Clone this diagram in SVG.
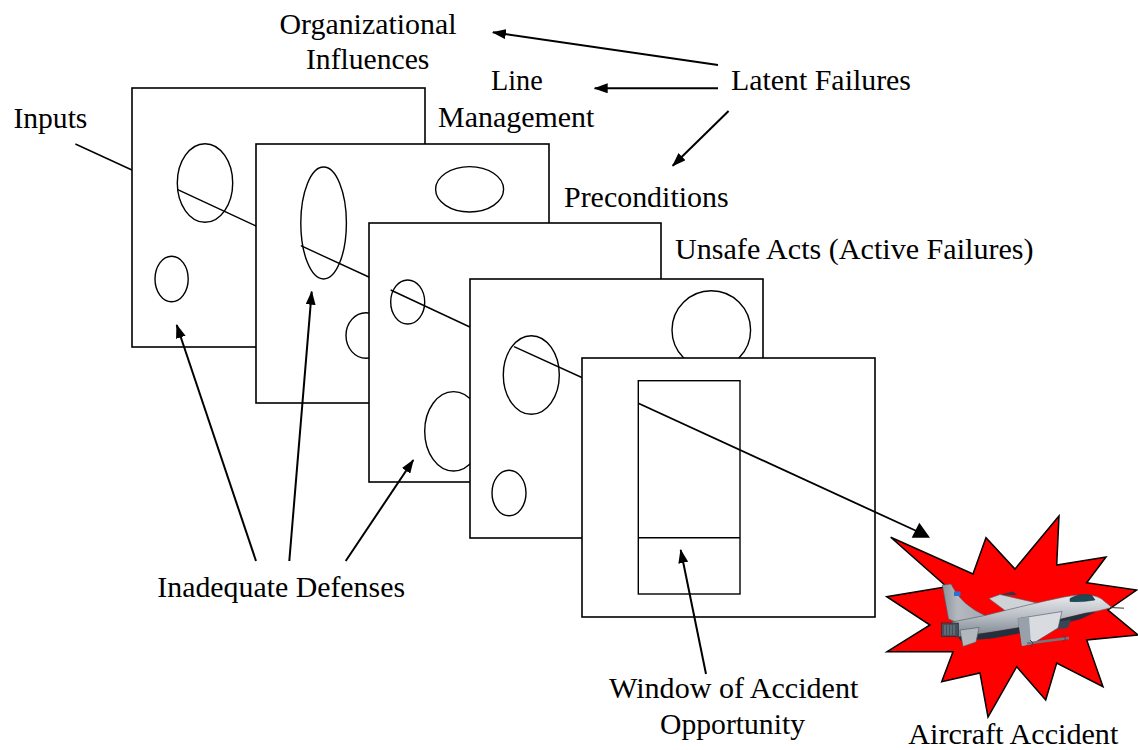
<svg xmlns="http://www.w3.org/2000/svg" width="1138" height="750" viewBox="0 0 1138 750">
<style>
.slice{fill:#fff;stroke:#000;stroke-width:1.6}
.hole{fill:none;stroke:#000;stroke-width:1.4}
.thru{stroke:#000;stroke-width:1.4;fill:none}
.arr{stroke:#000;stroke-width:2;fill:none;marker-end:url(#ah)}
text{font-family:'Liberation Serif','Times New Roman',serif;font-size:29.33px;fill:#000}
</style>
<defs>
<marker id="ah" markerUnits="userSpaceOnUse" markerWidth="14" markerHeight="10" refX="13" refY="5" orient="auto">
<path d="M0,0 L14,5 L0,10 Z" fill="#000"/>
</marker>
<linearGradient id="metal" x1="0" y1="0" x2="0" y2="1">
<stop offset="0" stop-color="#e9ecef"/>
<stop offset="0.5" stop-color="#b9bec5"/>
<stop offset="1" stop-color="#7c848e"/>
</linearGradient>
<linearGradient id="fin" x1="0" y1="0" x2="1" y2="0">
<stop offset="0" stop-color="#8a9099"/>
<stop offset="0.35" stop-color="#b4b9c0"/>
<stop offset="1" stop-color="#a3a9b1"/>
</linearGradient>
</defs>

<g id="inputs-line">
<line class="thru" x1="75.4" y1="144" x2="133" y2="170.5"/>
</g>

<g id="slice-organizational">
<rect class="slice" x="132" y="88" width="293" height="259"/>
<ellipse class="hole" cx="205" cy="183" rx="27.7" ry="39.3"/>
<ellipse class="hole" cx="171.6" cy="279" rx="16.6" ry="22.7"/>
<line class="thru" x1="177.2" y1="189.3" x2="258" y2="227"/>
</g>

<g id="slice-line-management">
<rect class="slice" x="256" y="144" width="293" height="259"/>
<ellipse class="hole" cx="323.6" cy="223" rx="22.8" ry="56"/>
<ellipse class="hole" cx="469.6" cy="189.3" rx="34" ry="22.7"/>
<ellipse class="hole" cx="366" cy="335.5" rx="20" ry="22.8"/>
<line class="thru" x1="300.8" y1="245.7" x2="371" y2="278"/>
</g>

<g id="slice-preconditions">
<rect class="slice" x="369" y="223" width="292" height="259"/>
<ellipse class="hole" cx="407.7" cy="302" rx="17" ry="22"/>
<ellipse class="hole" cx="453.5" cy="431.3" rx="28.8" ry="39.7"/>
<line class="thru" x1="390.7" y1="290" x2="472" y2="328"/>
</g>

<g id="slice-unsafe-acts">
<rect class="slice" x="470" y="279" width="293" height="259"/>
<ellipse class="hole" cx="711.3" cy="330" rx="39.3" ry="39.3"/>
<ellipse class="hole" cx="531.3" cy="375" rx="28" ry="39.3"/>
<ellipse class="hole" cx="509" cy="493" rx="17" ry="22.7"/>
<line class="thru" x1="514" y1="346.7" x2="584" y2="378.5"/>
</g>

<g id="slice-window">
<rect class="slice" x="582" y="358" width="293" height="259"/>
<rect class="hole" x="638.3" y="380.7" width="101.7" height="213.3"/>
<line class="thru" x1="638.3" y1="537.7" x2="740" y2="537.7"/>
</g>

<g id="explosion">
<polygon points="890.7,537.3 973,574 986,537.7 1015,569 1059,516 1056.7,565 1106,557 1086.7,582.7 1136.7,590 1108,610 1138,635 1086.7,640 1103,686.7 1056.7,663 1045.7,700 1016.7,666.7 988,717 980,673 941.7,681.7 953,651.7 887,651.7 930,625 886.7,596.7 946.7,586.7" fill="#ff0000" stroke="#000" stroke-width="1.5" stroke-linejoin="miter"/>
</g>

<g id="aircraft">
<path d="M999,595 L1013,591.5 L1017,595 Z" fill="#2b3a4a"/>
<path d="M989,598.5 L1000,594.5 L1037,603 L1031,607.5 L1007,612 Z" fill="#cfd3d8" stroke="#5b636c" stroke-width="0.6"/>
<path d="M942.3,585 L951,584 Q961,605 986,616 L958,623 L948.5,619 Z" fill="url(#fin)" stroke="#4d555e" stroke-width="0.6"/>
<rect x="954" y="591.5" width="6.5" height="4.5" fill="#2a6fd6"/>
<path d="M952,622 L985,615.5 Q1030,604 1064,597 Q1090,592 1101,598.5 L1112,607.5 Q1100,611 1086,613 L1040,624 L992,632 L958,637 Z" fill="url(#metal)" stroke="#4d555e" stroke-width="0.6"/>
<path d="M958,637 L992,632 L1040,624 L1086,613 L1096,612 L1081,619 L1040,629.5 L992,638.5 L961,641 Z" fill="#24303d"/>
<path d="M1070,598.5 Q1080,592.5 1092,595.5 L1095,600 Q1082,602.5 1070,601.5 Z" fill="#1d4a57" stroke="#0e2a33" stroke-width="0.5"/>
<line x1="1110" y1="607.5" x2="1124" y2="608.2" stroke="#333" stroke-width="1"/>
<rect x="941.5" y="623" width="17" height="13.5" fill="#44505c" stroke="#222" stroke-width="0.6"/>
<path d="M945,625 V635 M948,625 V635 M951,625 V635 M954,625 V635" stroke="#8a939c" stroke-width="0.8"/>
<path d="M960,630 L979,627.5 L976,642 L963,646.5 Z" fill="#b3b8bf" stroke="#4d555e" stroke-width="0.6"/>
<path d="M1055,622 L1071,619.5 L1068,628 L1054,629.5 Z" fill="#3a4656"/>
<path d="M1018,618.5 L1062,611.5 L1058,628 L1032,644 L1022,646 Z" fill="#d8dbe0" stroke="#4d555e" stroke-width="0.6"/>
<path d="M1018,618.5 L1029,617 L1031,644 L1022,646 Z" fill="#98a0a9"/>
<line x1="1027" y1="643.5" x2="1069" y2="638" stroke="#6f7780" stroke-width="2.6"/>
<path d="M1062,635 L1066,638.5 L1063,642 M1030,640 L1033,643 L1031,647" stroke="#3a434c" stroke-width="1" fill="none"/>
</g>

<g id="connectors">
<line class="arr" x1="718" y1="65" x2="492.9" y2="32.3"/>
<line class="arr" x1="718" y1="88.3" x2="594.7" y2="88.3"/>
<line class="arr" x1="728.6" y1="111" x2="672.7" y2="165.7"/>
<line class="arr" x1="256" y1="561" x2="176.7" y2="325"/>
<line class="arr" x1="289.3" y1="561" x2="311.7" y2="291.7"/>
<line class="arr" x1="345.7" y1="561" x2="413.3" y2="460"/>
<line class="arr" x1="706" y1="674" x2="680.7" y2="550"/>
<line x1="638.3" y1="403.3" x2="916" y2="530.8" stroke="#000" stroke-width="1.8"/>
<polygon points="919.3,522.7 911.7,537.7 930,537.7" fill="#000"/>
</g>

<g id="labels">
<text x="368" y="33.5" text-anchor="middle" textLength="177" lengthAdjust="spacingAndGlyphs">Organizational</text>
<text x="367.7" y="69" text-anchor="middle" textLength="123.4" lengthAdjust="spacingAndGlyphs">Influences</text>
<text x="516.9" y="90" text-anchor="middle" textLength="51.7" lengthAdjust="spacingAndGlyphs">Line</text>
<text x="516.2" y="126.5" text-anchor="middle" textLength="156.3" lengthAdjust="spacingAndGlyphs">Management</text>
<text x="731" y="90" textLength="180" lengthAdjust="spacingAndGlyphs">Latent Failures</text>
<text x="13.4" y="128" textLength="74" lengthAdjust="spacingAndGlyphs">Inputs</text>
<text x="564" y="206.5" textLength="164.6" lengthAdjust="spacingAndGlyphs">Preconditions</text>
<text x="675" y="258.5" textLength="358.6" lengthAdjust="spacingAndGlyphs">Unsafe Acts (Active Failures)</text>
<text x="157.3" y="596.7" textLength="247.7" lengthAdjust="spacingAndGlyphs">Inadequate Defenses</text>
<text x="733.7" y="697.7" text-anchor="middle" textLength="249.3" lengthAdjust="spacingAndGlyphs">Window of Accident</text>
<text x="732.5" y="734" text-anchor="middle" textLength="145" lengthAdjust="spacingAndGlyphs">Opportunity</text>
<text x="908.3" y="744" textLength="210" lengthAdjust="spacingAndGlyphs">Aircraft Accident</text>
</g>
</svg>
